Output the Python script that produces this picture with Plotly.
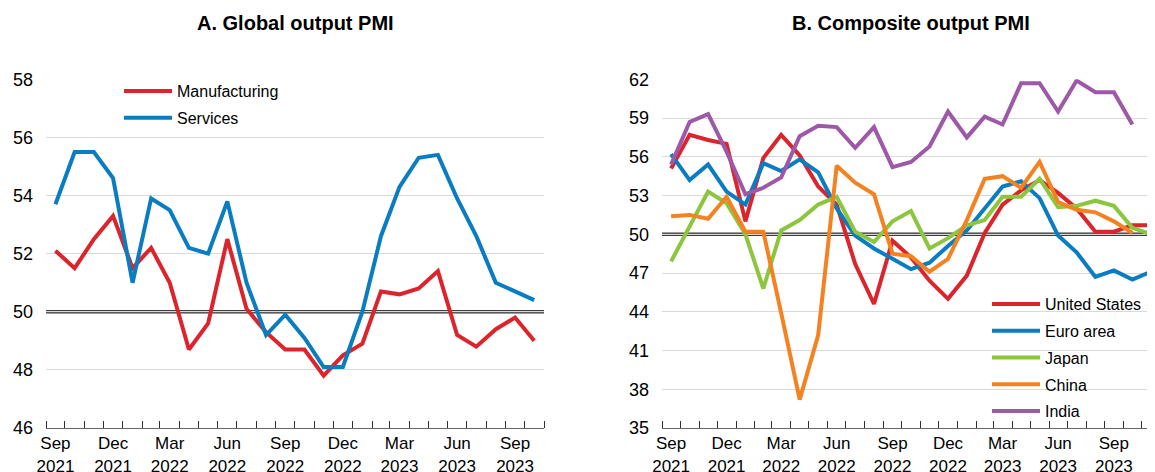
import pandas as pd
import plotly.graph_objects as go

# monthly data, Sep 2021 onwards
months_a = pd.date_range("2021-09-01", "2023-10-01", freq="MS")
months_b = pd.date_range("2021-09-01", "2023-11-01", freq="MS")

# A. Global output PMI
manufacturing = [52.1, 51.5, 52.5, 53.3, 51.5, 52.2, 51.0, 48.7, 49.6, 52.5, 50.1, 49.3, 48.7,
                 48.7, 47.8, 48.5, 48.9, 50.7, 50.6, 50.8, 51.4, 49.2, 48.8, 49.4, 49.8, 49.0]
services = [53.7, 55.5, 55.5, 54.6, 51.0, 53.9, 53.5, 52.2, 52.0, 53.8, 51.0, 49.2, 49.9,
            49.1, 48.1, 48.1, 50.0, 52.6, 54.3, 55.3, 55.4, 53.9, 52.6, 51.0, 50.7, 50.4]

# B. Composite output PMI
united_states = [55.1, 57.7, 57.3, 57.0, 51.0, 55.9, 57.7, 56.1, 53.7, 52.3, 47.7, 44.6, 49.5, 48.2,
                 46.4, 45.0, 46.8, 50.1, 52.3, 53.4, 54.2, 53.2, 52.0, 50.2, 50.2, 50.7, 50.7]
euro_area = [56.2, 54.2, 55.4, 53.3, 52.3, 55.5, 54.9, 55.8, 54.8, 52.0, 49.9, 48.9, 48.1, 47.3,
             47.8, 49.1, 50.3, 52.0, 53.7, 54.1, 52.8, 49.9, 48.6, 46.7, 47.2, 46.5, 47.1]
japan = [47.9, 50.6, 53.3, 52.4, 50.0, 45.8, 50.3, 51.1, 52.3, 52.9, 50.2, 49.4, 51.0, 51.8,
         48.9, 49.7, 50.7, 51.1, 52.9, 52.9, 54.3, 52.1, 52.2, 52.6, 52.2, 50.5, 50.0]
china = [51.4, 51.5, 51.2, 52.9, 50.2, 50.2, 43.9, 37.2, 42.2, 55.3, 54.0, 53.1, 48.5, 48.3,
         47.1, 48.1, 51.1, 54.3, 54.5, 53.6, 55.6, 52.5, 51.9, 51.7, 51.0, 50.1]
india = [55.4, 58.7, 59.3, 56.4, 53.1, 53.6, 54.4, 57.6, 58.4, 58.3, 56.7, 58.3, 55.2, 55.6,
         56.8, 59.5, 57.5, 59.1, 58.5, 61.7, 61.7, 59.5, 61.9, 61.0, 61.0, 58.5]

RED = "#dc242c"
BLUE = "#0a7dc2"
GREEN = "#8cc63f"
ORANGE = "#f58220"
PURPLE = "#9e58a8"

FONT = "Liberation Sans, Arial, sans-serif"
W, H = 1155, 472


def mid_months(months):
    """centre of each month, used to put the labels under the points"""
    return [m + (m + pd.offsets.MonthBegin(1) - m) / 2 for m in months]


def line(x, y, name, color, xaxis, yaxis, legend):
    return go.Scatter(x=x, y=y, name=name, mode="lines",
                      line=dict(color=color, width=4),
                      xperiod="M1", xperiodalignment="middle",
                      xaxis=xaxis, yaxis=yaxis, legend=legend, legendgroup=name)


fig = go.Figure()
fig.add_trace(line(months_a, manufacturing, "Manufacturing", RED, "x", "y", "legend"))
fig.add_trace(line(months_a, services, "Services", BLUE, "x", "y", "legend"))
fig.add_trace(line(months_b, united_states, "United States", RED, "x2", "y2", "legend2"))
fig.add_trace(line(months_b, euro_area, "Euro area", BLUE, "x2", "y2", "legend2"))
fig.add_trace(line(months_b, japan, "Japan", GREEN, "x2", "y2", "legend2"))
fig.add_trace(line(months_b[:len(china)], china, "China", ORANGE, "x2", "y2", "legend2"))
fig.add_trace(line(months_b[:len(india)], india, "India", PURPLE, "x2", "y2", "legend2"))

# pixel positions below are in figure px (page body adds an 8px offset)
ydom = [1 - 420 / H, 1 - 71.3 / H]

xcommon = dict(type="date", tickmode="array", ticks="", showgrid=False, automargin=False,
               showline=True, linecolor="#666", linewidth=1,
               tickfont=dict(size=17, color="black"),
               minor=dict(dtick="M1", tick0="2021-09-01", ticks="inside", ticklen=7,
                          tickcolor="#333", tickwidth=1, showgrid=False))
ycommon = dict(showgrid=True, gridcolor="#d9d9d9", gridwidth=1, zeroline=False,
               automargin=False, ticks="", tickfont=dict(size=18, color="black"),
               ticklabelstandoff=12, domain=ydom)
legcommon = dict(xanchor="left", yanchor="top", font=dict(size=16), itemwidth=48,
                 tracegroupgap=3, bgcolor="rgba(0,0,0,0)")

fig.update_layout(
    xaxis=dict(xcommon, domain=[38 / W, 536 / W], anchor="y",
               range=["2021-09-01", "2023-11-01"],
               tickvals=mid_months(months_a[::3]),
               ticktext=[f"{m:%b}<br>{m:%Y}" for m in months_a[::3]]),
    yaxis=dict(ycommon, range=[46, 58], tick0=46, dtick=2, anchor="x"),
    xaxis2=dict(xcommon, domain=[654 / W, 1152 / W], anchor="y2",
                range=["2021-09-01", "2023-12-01"],
                tickvals=mid_months(months_b[::3]),
                ticktext=[f"{m:%b}<br>{m:%Y}" for m in months_b[::3]]),
    yaxis2=dict(ycommon, range=[35, 62], tick0=35, dtick=3, anchor="x2"),
    legend=dict(legcommon, x=111 / W, y=1 - 66 / H),
    legend2=dict(legcommon, x=979 / W, y=1 - 279 / H),
    width=W, height=H,
    margin=dict(l=0, r=0, t=0, b=0, autoexpand=False),
    plot_bgcolor="white", paper_bgcolor="white",
    font=dict(family=FONT, color="black"),
    showlegend=True,
)

# the 50 line (expansion / contraction)
for xr, yr in [("x domain", "y"), ("x2 domain", "y2")]:
    fig.add_shape(type="line", xref=xr, yref=yr, x0=0, x1=1, y0=50, y1=50,
                  line=dict(color="#3a3a3a", width=3.5), layer="below")
    fig.add_shape(type="line", xref=xr, yref=yr, x0=0, x1=1, y0=50, y1=50,
                  line=dict(color="#b5b5b5", width=1), layer="below")

fig.add_annotation(text="<b>A. Global output PMI</b>", xref="paper", yref="paper",
                   x=287 / W, y=1 - 15 / H, xanchor="center", yanchor="middle",
                   showarrow=False, font=dict(size=20))
fig.add_annotation(text="<b>B. Composite output PMI</b>", xref="paper", yref="paper",
                   x=903 / W, y=1 - 15 / H, xanchor="center", yanchor="middle",
                   showarrow=False, font=dict(size=20))

fig.write_html("out.html")
